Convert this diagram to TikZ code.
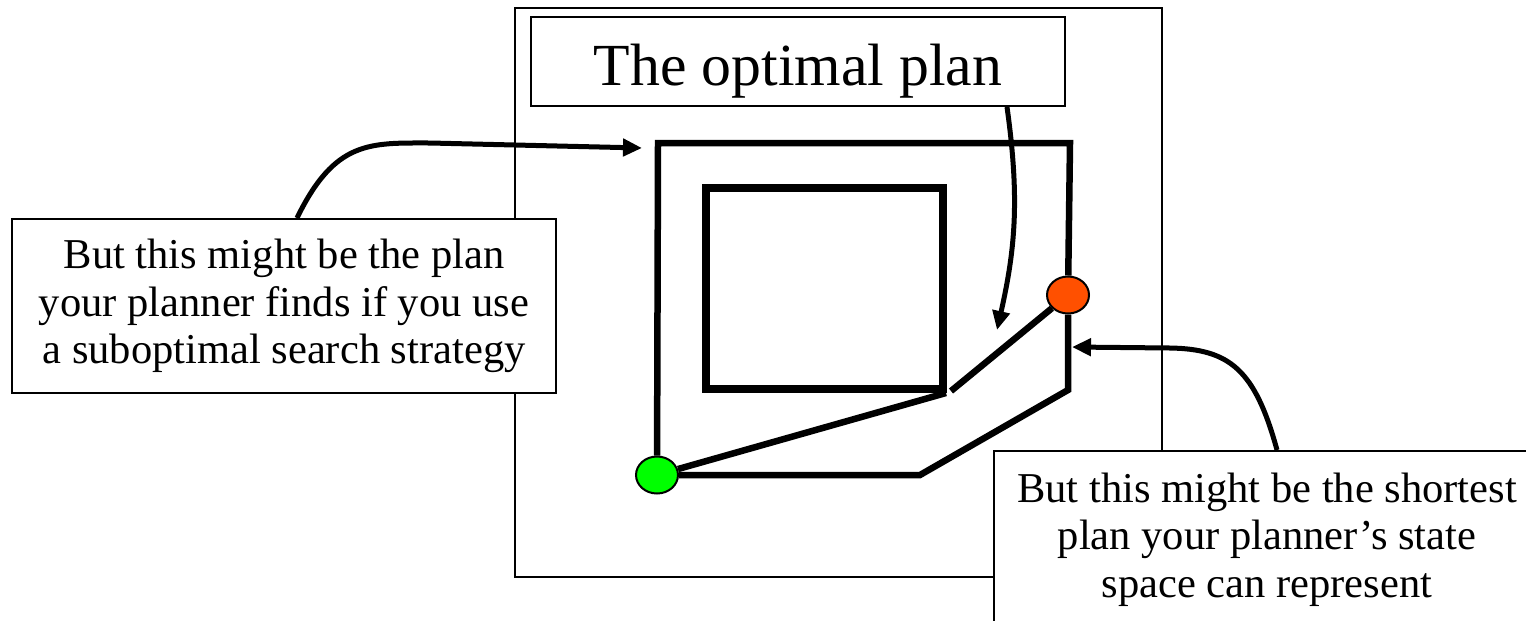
\documentclass[tikz,border=0pt]{standalone}
\usepackage{fontspec}
\setmainfont{Liberation Serif}
\usetikzlibrary{arrows.meta, shapes.geometric}
\definecolor{startgreen}{RGB}{0,255,0}
\definecolor{goalred}{RGB}{255,80,0}
\newcommand\titlefont{\fontsize{17}{20}\selectfont}
\newcommand\calloutfont{\fontsize{12.1}{13.5}\selectfont}

\begin{document}
\begin{tikzpicture}[x=0.1mm, y=-0.1mm,
    frame/.style={draw, line width=0.2mm},
    box/.style={draw, fill=white, line width=0.2mm, align=center, inner sep=0pt},
    plan/.style={line width=0.65mm},
    wall/.style={line width=0.8mm},
    callout/.style={line width=0.5mm, -{Triangle[length=1.9mm, width=1.7mm]}},
    state/.style={ellipse, draw, line width=0.2mm, minimum width=4.2mm, minimum height=3.7mm, inner sep=0pt}]
  \useasboundingbox (0,0) rectangle (1526,620);

  % state space frame
  \draw[frame] (515,8) rectangle (1162,577);

  % text boxes
  \node[box, font=\titlefont, minimum width=53.4mm, minimum height=8.9mm,
        text height=5mm, text depth=0.3mm] (title) at (798,61.5) {The optimal plan};
  \node[box, font=\calloutfont, minimum width=54.4mm, minimum height=17.4mm] (subopt) at (284,306)
    {But this might be the plan\\your planner finds if you use\\a suboptimal search strategy};
  \node[box, font=\calloutfont, minimum width=54.6mm, minimum height=17.7mm] (short) at (1267,539.5)
    {But this might be the shortest\\plan your planner’s state\\space can represent};

  % obstacle
  \draw[wall] (706,188) rectangle (943,389);

  % start and goal
  \node[state, fill=startgreen] (start) at (657,475) {};
  \node[state, fill=goalred] (goal) at (1068,295) {};

  % corners of the plans
  \coordinate (nw) at (658,143);
  \coordinate (ne) at (1070,143);
  \coordinate (se) at (1068,390);
  \coordinate (sbend) at (920,475);
  \coordinate (corner) at (946,393);
  \coordinate (corner2) at (951,391);

  % long way round
  \draw[plan] (start) -- (nw) -- (ne) -- (goal);
  % lower way
  \draw[plan] (goal) -- (se) -- (sbend) -- (start);
  % past the obstacle
  \draw[plan] (start) -- (corner);
  \draw[plan] (corner2) -- (goal);

  % arrow ends
  \coordinate (topend) at (642,148);
  \coordinate (midend) at (997,330);
  \coordinate (sideend) at (1072,347);

  % callout arrows
  \draw[callout] ([xshift=1.3mm]subopt.north) .. controls (335,140) and (370,143) .. (430,143) -- (topend);
  \draw[callout] ([xshift=20.9mm]title.south) .. controls (1020,200) and (1015,250) .. (midend);
  \draw[callout] ([xshift=1mm]short.north) .. controls (1255,370) and (1230,349) .. (1170,348) -- (sideend);
\end{tikzpicture}
\end{document}
